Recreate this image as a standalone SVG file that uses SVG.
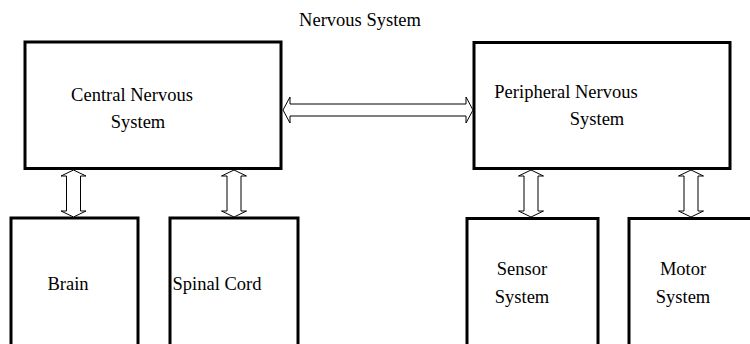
<svg xmlns="http://www.w3.org/2000/svg" width="750" height="344" viewBox="0 0 750 344">
<style>
.box{fill:#fff;stroke:#000;stroke-width:3}
.arr{fill:#fff;stroke:#000;stroke-width:1}
text{font-family:"Liberation Serif","Times New Roman",serif;font-size:18.5px;fill:#000;text-anchor:middle}
</style>
<rect width="750" height="344" fill="#fff"/>
<text x="360" y="26">Nervous System</text>
<g id="cns">
<rect class="box" x="25" y="42" width="256" height="126.5"/>
<text x="132" y="101">Central Nervous</text>
<text x="138" y="128">System</text>
</g>
<g id="pns">
<rect class="box" x="474" y="42.5" width="256" height="126"/>
<text x="566" y="98">Peripheral Nervous</text>
<text x="597" y="125">System</text>
</g>
<g id="brain">
<rect class="box" x="11" y="218" width="127" height="150"/>
<text x="68" y="290">Brain</text>
</g>
<g id="spinal">
<rect class="box" x="170" y="218" width="128" height="150"/>
<text x="217" y="290">Spinal Cord</text>
</g>
<g id="sensor">
<rect class="box" x="467" y="218.5" width="131" height="150"/>
<text x="522" y="275">Sensor</text>
<text x="522" y="303">System</text>
</g>
<g id="motor">
<rect class="box" x="629" y="218.5" width="131" height="150"/>
<text x="683" y="275">Motor</text>
<text x="683" y="303">System</text>
</g>
<g id="connectors">
<polygon class="arr" points="283,110 290,97 290,104 466,104 466,97 473,110 466,123 466,116 290,116 290,123"/>
<polygon class="arr" points="73.5,170 86,176 80.5,176 80.5,211 86,211 73.5,217 61,211 66.5,211 66.5,176 61,176"/>
<polygon class="arr" points="234,170 246.5,176 241,176 241,211 246.5,211 234,217 221.5,211 227,211 227,176 221.5,176"/>
<polygon class="arr" points="531,170 543.5,176 538,176 538,211 543.5,211 531,217 518.5,211 524,211 524,176 518.5,176"/>
<polygon class="arr" points="691,170 703.5,176 698,176 698,211 703.5,211 691,217 678.5,211 684,211 684,176 678.5,176"/>
</g>
</svg>
